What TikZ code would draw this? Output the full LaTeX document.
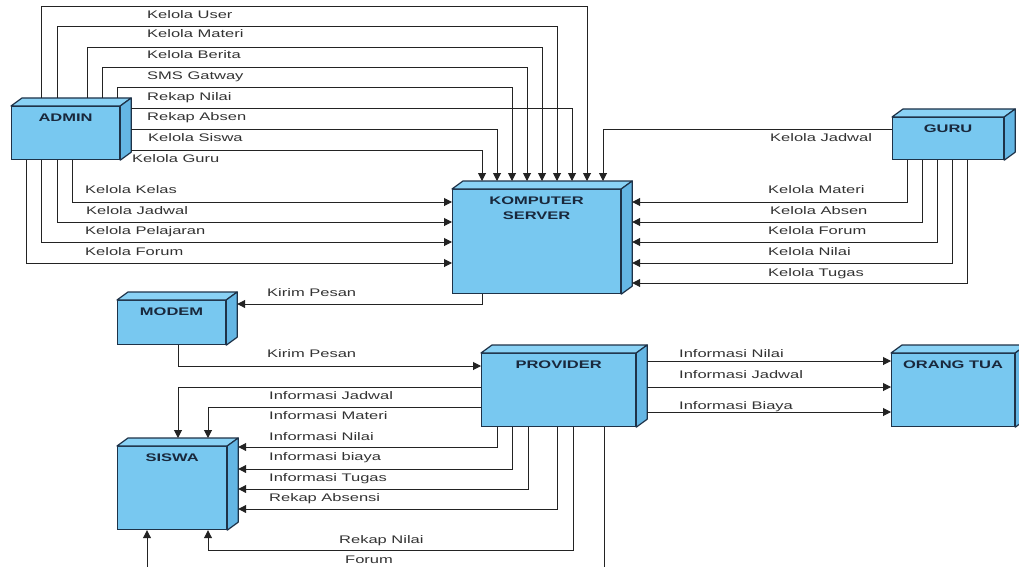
\documentclass[tikz,border=0pt]{standalone}
\usepackage{fontspec}
\newfontfamily\lblfont[FakeStretch=1.5]{Liberation Sans}
\usetikzlibrary{arrows.meta,calc}
\definecolor{boxfront}{RGB}{120,200,240}
\definecolor{boxtop}{RGB}{138,210,245}
\definecolor{boxside}{RGB}{100,182,228}
\definecolor{boxline}{RGB}{30,50,72}
\definecolor{wire}{RGB}{35,35,35}
\definecolor{lbltext}{RGB}{50,50,50}
\definecolor{ttltext}{RGB}{25,40,60}
\tikzset{
  cube/.style={draw=boxline, fill=boxfront, line width=1.2pt, inner sep=0pt, anchor=north west},
  cubeface/.style={draw=boxline, line width=1.2pt, line join=round},
  ttl/.style={font=\lblfont\bfseries\fontsize{11}{15}\selectfont, text=ttltext, inner sep=0pt, align=center},
  lbl/.style={font=\lblfont\fontsize{11}{13}\selectfont, text=lbltext, inner sep=0pt, anchor=base west},
  arr/.style={draw=wire, line width=1pt, -{Triangle[length=8pt,width=8pt]}},
  wireline/.style={draw=wire, line width=1pt},
}
\newcommand{\cubebox}[6]{%
  \node[cube, minimum width=#4pt, minimum height=#5pt] (#1) at (#2,#3) {};
  \coordinate (#1-btl) at ([xshift=11pt,yshift=8pt]#1.north west);
  \coordinate (#1-btr) at ([xshift=11pt,yshift=8pt]#1.north east);
  \coordinate (#1-bbr) at ([xshift=11pt,yshift=8pt]#1.south east);
  \filldraw[cubeface, fill=boxtop] (#1.north west) -- (#1-btl) -- (#1-btr) -- (#1.north east) -- cycle;
  \filldraw[cubeface, fill=boxside] (#1.north east) -- (#1-btr) -- (#1-bbr) -- (#1.south east) -- cycle;
  \node[ttl, anchor=north] (#1-t) at ([yshift=-8pt]#1.north) {#6};
}
\begin{document}
\begin{tikzpicture}[x=1pt,y=-1pt]
\useasboundingbox (0,0) rectangle (1019,567);

% boxes
\cubebox{admin}{11}{106}{108}{53}{ADMIN}
\cubebox{server}{452}{189}{168}{104}{KOMPUTER\\SERVER}
\cubebox{guru}{892}{117}{111}{42}{GURU}
\cubebox{modem}{117}{300}{108}{44}{MODEM}
\cubebox{provider}{481}{353}{154}{73}{PROVIDER}
\cubebox{ortu}{891}{353}{123}{73}{ORANG TUA}
\cubebox{siswa}{117}{446}{109}{83}{SISWA}

% ADMIN top -> SERVER top
\draw[arr] ([xshift=30pt,yshift=8pt]admin.north west) |- (587,7) -- ([xshift=135pt,yshift=8pt]server.north west);
\draw[arr] ([xshift=46pt,yshift=8pt]admin.north west) |- (557,27) -- ([xshift=105pt,yshift=8pt]server.north west);
\draw[arr] ([xshift=76pt,yshift=8pt]admin.north west) |- (542,48) -- ([xshift=90pt,yshift=8pt]server.north west);
\draw[arr] ([xshift=91pt,yshift=8pt]admin.north west) |- (527,68) -- ([xshift=75pt,yshift=8pt]server.north west);
\draw[arr] ([xshift=106pt,yshift=8pt]admin.north west) |- (512,88) -- ([xshift=60pt,yshift=8pt]server.north west);
\draw[arr] ([yshift=-11pt]admin-btr) -| ([xshift=120pt,yshift=8pt]server.north west);
\draw[arr] ([yshift=-31pt]admin-btr) -| ([xshift=45pt,yshift=8pt]server.north west);
\draw[arr] ([yshift=-52pt]admin-btr) -| ([xshift=30pt,yshift=8pt]server.north west);
\draw[arr] ([yshift=-12pt]guru.north west) -| ([xshift=151pt,yshift=8pt]server.north west);

% ADMIN bottom -> SERVER left
\draw[arr] ([xshift=61pt]admin.south west) |- ([yshift=-13pt]server.north west);
\draw[arr] ([xshift=46pt]admin.south west) |- ([yshift=-33pt]server.north west);
\draw[arr] ([xshift=30pt]admin.south west) |- ([yshift=-53pt]server.north west);
\draw[arr] ([xshift=15pt]admin.south west) |- ([yshift=-74pt]server.north west);

% GURU bottom -> SERVER right
\draw[arr] ([xshift=15pt]guru.south west) |- ([yshift=-21pt]server-btr);
\draw[arr] ([xshift=30pt]guru.south west) |- ([yshift=-41pt]server-btr);
\draw[arr] ([xshift=45pt]guru.south west) |- ([yshift=-61pt]server-btr);
\draw[arr] ([xshift=60pt]guru.south west) |- ([yshift=-82pt]server-btr);
\draw[arr] ([xshift=75pt]guru.south west) |- ([yshift=-102pt]server-btr);

% SERVER -> MODEM -> PROVIDER
\draw[arr] ([xshift=30pt]server.south west) |- ([yshift=-12pt]modem-btr);
\draw[arr] ([xshift=61pt]modem.south west) |- ([yshift=-13pt]provider.north west);

% PROVIDER -> SISWA
\draw[arr] ([yshift=-34pt]provider.north west) -| ([xshift=61pt,yshift=8pt]siswa.north west);
\draw[arr] ([yshift=-54pt]provider.north west) -| ([xshift=91pt,yshift=8pt]siswa.north west);
\draw[arr] ([xshift=16pt]provider.south west) |- ([yshift=-9pt]siswa-btr);
\draw[arr] ([xshift=31pt]provider.south west) |- ([yshift=-31pt]siswa-btr);
\draw[arr] ([xshift=47pt]provider.south west) |- ([yshift=-51pt]siswa-btr);
\draw[arr] ([xshift=76pt]provider.south west) |- ([yshift=-71pt]siswa-btr);
\draw[arr] ([xshift=92pt]provider.south west) |- (208,550) -- ([xshift=91pt]siswa.south west);
\coordinate (forumA) at (604,575);
\coordinate (forumB) at (147,575);
\draw[wireline] ([xshift=123pt]provider.south west) -- (forumA);
\draw[arr] (forumB) -- ([xshift=30pt]siswa.south west);

% PROVIDER -> ORANG TUA
\draw[arr] ([yshift=-16pt]provider-btr) -- ([yshift=-8pt]ortu.north west);
\draw[arr] ([yshift=-42pt]provider-btr) -- ([yshift=-34pt]ortu.north west);
\draw[arr] ([yshift=-67pt]provider-btr) -- ([yshift=-59pt]ortu.north west);

% labels
\node[lbl] (l1) at (147,19) {Kelola User};
\node[lbl] (l2) at (147,38) {Kelola Materi};
\node[lbl] (l3) at (147,59) {Kelola Berita};
\node[lbl] (l4) at (147,80) {SMS Gatway};
\node[lbl] (l5) at (147,101) {Rekap Nilai};
\node[lbl] (l6) at (147,121) {Rekap Absen};
\node[lbl] (l7) at (148,142) {Kelola Siswa};
\node[lbl] (l8) at (132,162) {Kelola Guru};
\node[lbl] (l9) at (85,193) {Kelola Kelas};
\node[lbl] (l10) at (86,214) {Kelola Jadwal};
\node[lbl] (l11) at (85,234) {Kelola Pelajaran};
\node[lbl] (l12) at (85,255) {Kelola Forum};
\node[lbl] (l13) at (770,142) {Kelola Jadwal};
\node[lbl] (l14) at (768,193) {Kelola Materi};
\node[lbl] (l15) at (770,214) {Kelola Absen};
\node[lbl] (l16) at (768,234) {Kelola Forum};
\node[lbl] (l17) at (768,255) {Kelola Nilai};
\node[lbl] (l18) at (768,276) {Kelola Tugas};
\node[lbl] (l19) at (267,296) {Kirim Pesan};
\node[lbl] (l20) at (267,357) {Kirim Pesan};
\node[lbl] (l21) at (269,399) {Informasi Jadwal};
\node[lbl] (l22) at (269,419) {Informasi Materi};
\node[lbl] (l23) at (269,440) {Informasi Nilai};
\node[lbl] (l24) at (269,460) {Informasi biaya};
\node[lbl] (l25) at (269,481) {Informasi Tugas};
\node[lbl] (l26) at (269,501) {Rekap Absensi};
\node[lbl] (l27) at (339,543) {Rekap Nilai};
\node[lbl] (l28) at (345,563) {Forum};
\node[lbl] (l29) at (679,357) {Informasi Nilai};
\node[lbl] (l30) at (679,378) {Informasi Jadwal};
\node[lbl] (l31) at (679,409) {Informasi Biaya};
\end{tikzpicture}
\end{document}
